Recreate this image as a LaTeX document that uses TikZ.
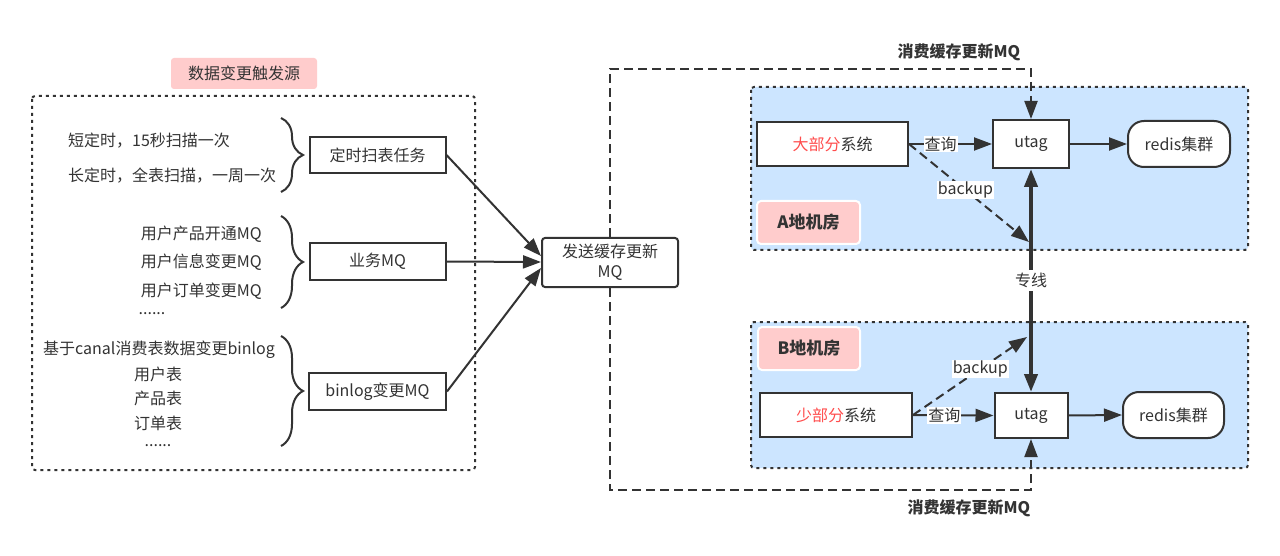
\documentclass[tikz,border=0pt]{standalone}
\usepackage{fontspec}
\setmainfont{Noto Sans CJK SC}
\usetikzlibrary{arrows.meta,decorations.pathreplacing}
\definecolor{ink}{HTML}{333333}
\definecolor{regionblue}{HTML}{CCE5FF}
\definecolor{tagpink}{HTML}{FFCCCC}
\definecolor{redtxt}{HTML}{FF4D4D}
\tikzset{
  box/.style={draw=ink, line width=2pt, fill=white, inner sep=0pt},
  conn/.style={draw=ink, line width=2pt, -{Triangle[length=18pt,width=13pt]}},
  dashconn/.style={conn, dash pattern=on 9pt off 5pt},
  lbl/.style={fill=white, inner sep=1pt},
  region/.style={fill=regionblue, draw=ink, line width=2pt, dash pattern=on 3pt off 4pt, rounded corners=3pt},
  tag/.style={fill=tagpink, draw=white, line width=2pt, rounded corners=4pt, inner sep=0pt, font=\bfseries\fontsize{17}{20}\selectfont},
  bracestyle/.style={draw=ink, line width=2pt, decorate, decoration={brace, amplitude=22pt}},
  txt/.style={inner sep=0pt}
}
\begin{document}
\begin{tikzpicture}[x=1pt,y=-1pt, font=\fontsize{16}{19}\selectfont, text=ink]
\useasboundingbox (0,0) rectangle (1280,556);
\fill[white] (0,0) rectangle (1280,556);

% left source group
\node[fill=tagpink, rounded corners=3pt, minimum width=146pt, minimum height=31pt, inner sep=0pt] (title) at (244,73.5) {数据变更触发源};
\draw[draw=ink, line width=2pt, dash pattern=on 3pt off 4pt, rounded corners=3pt] (32,96) rectangle (475,470);

\node[txt, anchor=west] (t1) at (68,141) {短定时，15秒扫描一次};
\node[txt, anchor=west] (t2) at (68,176) {长定时，全表扫描，一周一次};
\draw[bracestyle] (281,118) -- (281,192);

\node[txt, anchor=east] (m1) at (262,234) {用户产品开通MQ};
\node[txt, anchor=east] (m2) at (262,262) {用户信息变更MQ};
\node[txt, anchor=east] (m3) at (262,291) {用户订单变更MQ};
\node[txt] (m4) at (152,314) {......};
\draw[bracestyle] (281,216) -- (281,308);

\node[txt] (b1) at (159,350) {基于canal消费表数据变更binlog};
\node[txt] (b2) at (158,374) {用户表};
\node[txt] (b3) at (158,398) {产品表};
\node[txt] (b4) at (158,423) {订单表};
\node[txt] (b5) at (158,446) {......};
\draw[bracestyle] (281,336) -- (281,446);

\node[box, minimum width=136pt, minimum height=36pt] (timer) at (377.5,155) {定时扫表任务};
\node[box, minimum width=136pt, minimum height=37pt] (biz) at (377.5,261.5) {业务MQ};
\node[box, minimum width=137pt, minimum height=37pt] (binlog) at (377.5,391.5) {binlog变更MQ};

\node[box, rounded corners=3pt, minimum width=136pt, minimum height=49pt, align=center, font=\fontsize{16}{20}\selectfont] (send) at (610,262.5) {发送缓存更新\\MQ};

\coordinate (in1) at (541,256);
\coordinate (in2) at (541,262);
\coordinate (in3) at (541,268);
\draw[conn] (timer.east) -- (in1);
\draw[conn] (biz.east) -- (in2);
\draw[conn] (binlog.east) -- (in3);

% regions
\draw[region] (751,87) rectangle (1248,250);
\draw[region] (751,322) rectangle (1248,468);

\node[tag, minimum width=103pt, minimum height=43pt] (tagA) at (808.5,222.5) {A地机房};
\node[tag, minimum width=102pt, minimum height=43pt] (tagB) at (809,348.5) {B地机房};

\node[box, minimum width=151pt, minimum height=44pt] (bigA) at (832.5,144) {\textcolor{redtxt}{大部分}系统};
\node[box, minimum width=76pt, minimum height=48pt] (utagA) at (1031,144) {utag};
\node[box, rounded corners=16pt, minimum width=102pt, minimum height=46pt] (redisA) at (1179,144) {redis集群};

\node[box, minimum width=152pt, minimum height=44pt] (smallB) at (836,415) {\textcolor{redtxt}{少部分}系统};
\node[box, minimum width=73pt, minimum height=45pt] (utagB) at (1031,415.5) {utag};
\node[box, rounded corners=16pt, minimum width=101pt, minimum height=46pt] (redisB) at (1173.5,415) {redis集群};

% MQ consume lines
\coordinate (topc) at (1031,69);
\coordinate (botc) at (1031,490);
\draw[dashconn] (send.north) |- (topc) -- (utagA.north);
\draw[dashconn] (send.south) |- (botc) -- (utagB.south);
\node[txt, font=\bfseries\fontsize{16}{19}\selectfont] (lt) at (959,52) {消费缓存更新MQ};
\node[txt, font=\bfseries\fontsize{16}{19}\selectfont] (lb) at (969,508) {消费缓存更新MQ};

% A internals
\draw[conn] (bigA.east) -- (utagA.west) node[lbl, pos=0.38] {查询};
\draw[conn] (utagA.east) -- (redisA.west);
\coordinate (bkA) at (1029,242);
\draw[dashconn] (bigA.east) -- (bkA) node[lbl, pos=0.47] {backup};

% B internals
\draw[conn] (smallB.east) -- (utagB.west) node[lbl, pos=0.39] {查询};
\draw[conn] (utagB.east) -- (redisB.west);
\coordinate (bkB) at (1027,337);
\draw[dashconn] (smallB.east) -- (bkB) node[lbl, pos=0.59] {backup};

% dedicated line
\draw[draw=ink, line width=4pt, {Triangle[length=18pt,width=13pt]}-{Triangle[length=18pt,width=13pt]}] (utagA.south) -- (utagB.north) node[lbl, pos=0.5, inner sep=3pt] {专线};
\end{tikzpicture}
\end{document}
